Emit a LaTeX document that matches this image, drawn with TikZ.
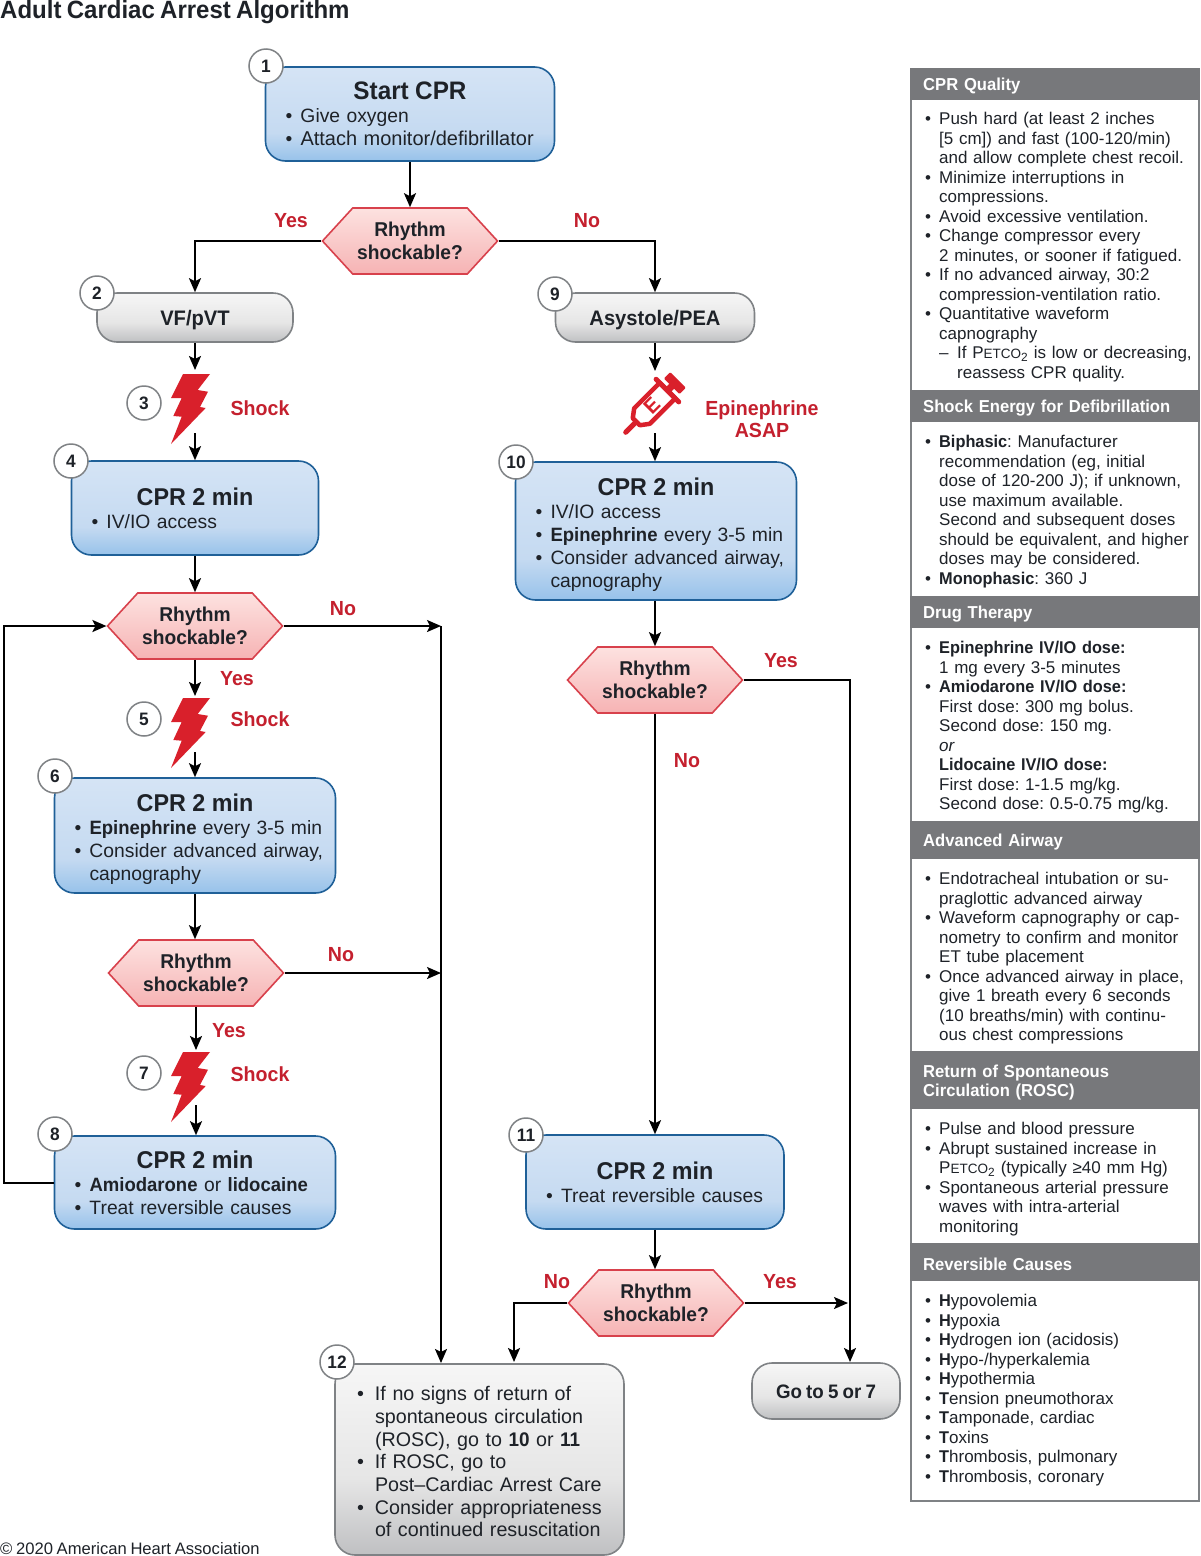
\documentclass[tikz,border=0pt]{standalone}
\usepackage{fontspec}
\setmainfont[WordSpace=0.8,BoldFeatures={FakeStretch=0.96}]{Liberation Sans}
\usetikzlibrary{arrows.meta,shapes.symbols,calc}
\definecolor{inkc}{HTML}{1E2228}
\definecolor{redt}{HTML}{C4202E}
\definecolor{boltc}{HTML}{D9202B}
\definecolor{blueline}{HTML}{1F6098}
\definecolor{bluet}{HTML}{D5E4F5}
\definecolor{bluem}{HTML}{C5DAF1}
\definecolor{blueb}{HTML}{97C2EA}
\definecolor{grayline}{HTML}{7F8285}
\definecolor{grayt}{HTML}{F6F6F6}
\definecolor{graym}{HTML}{E6E6E6}
\definecolor{grayb}{HTML}{BFC0C2}
\definecolor{pinkline}{HTML}{D8414C}
\definecolor{pinkt}{HTML}{FDE2E0}
\definecolor{pinkb}{HTML}{F6B3B4}
\definecolor{panelg}{HTML}{77787B}
\pgfdeclareverticalshading{bluegrad}{100bp}{color(0bp)=(blueb); color(25bp)=(blueb); color(40bp)=(bluem); color(75bp)=(bluet); color(100bp)=(bluet)}
\pgfdeclareverticalshading{graygrad}{100bp}{color(0bp)=(grayb); color(25bp)=(grayb); color(45bp)=(graym); color(75bp)=(grayt); color(100bp)=(grayt)}
\pgfdeclareverticalshading{pinkgrad}{100bp}{color(0bp)=(pinkb); color(25bp)=(pinkb); color(75bp)=(pinkt); color(100bp)=(pinkt)}
\newlength{\hangw}
\newcommand{\nl}{\unskip\break}
\newcommand{\wideline}{\rightskip=-80pt plus 1fil\relax\parfillskip=0pt plus 1fil\relax\hyphenpenalty=10000\relax\frenchspacing}
\newcommand{\ttl}[2][24.3]{{\centering\fontsize{#1}{25}\selectfont\bfseries\rule{0pt}{24pt}#2\par}}
\newcommand{\bul}[1]{\par\wideline\noindent\hangindent=\hangw\hangafter=1\strut\makebox[\hangw][l]{•}#1\par}
\newcommand{\subul}[1]{\par\wideline\noindent\hangindent=32pt\hangafter=1\strut\hspace*{14pt}\makebox[18pt][l]{–}#1\par}
\newcommand{\flowfont}{\fontsize{19.3}{23}\selectfont\setlength{\hangw}{15pt}\parskip=0pt\parindent=0pt\relax}
\newcommand{\blockfont}{\fontsize{19.7}{22.7}\selectfont\setlength{\hangw}{18pt}\parskip=0pt\parindent=0pt\relax}
\newcommand{\panelfont}{\fontsize{17}{19.5}\selectfont\setlength{\hangw}{14pt}\parskip=0pt\parindent=0pt\relax}
\newcommand{\petco}{P{\fontsize{13.5}{13.5}\selectfont ETCO}\textsubscript{2}}
\tikzset{
  flow/.style={line width=2pt,draw=black,-{Stealth[length=14pt,width=12pt,inset=3pt]}},
  bluebox/.style={draw=blueline,line width=1.6pt,rounded corners=20pt,shade,shading=bluegrad,inner xsep=20pt,inner ysep=0pt,text=inkc,font=\flowfont},
  graybox/.style={draw=grayline,line width=1.6pt,rounded corners=20pt,shade,shading=graygrad,inner sep=0pt,text=inkc,font=\fontsize{21}{23}\selectfont\bfseries,text height=15pt,text depth=0pt},
  grayblock/.style={draw=grayline,line width=1.6pt,rounded corners=20pt,shade,shading=graygrad,inner xsep=22pt,inner ysep=0pt,text=inkc,font=\blockfont},
  hexa/.style={signal,signal to=east and west,signal pointer angle=95,draw=pinkline,line width=1.6pt,shade,shading=pinkgrad,inner sep=0pt,minimum width=175pt,minimum height=66pt,text=inkc,font=\fontsize{20}{23}\selectfont\bfseries,align=center},
  numc/.style={circle,draw=grayline,line width=1.5pt,fill=white,minimum size=34pt,inner sep=0pt,text=inkc,font=\fontsize{18}{18}\selectfont\bfseries},
  redl/.style={text=redt,font=\fontsize{20.4}{22.5}\selectfont\bfseries,align=center,inner sep=0pt},
  phead/.style={fill=panelg,text=white,anchor=north west,inner xsep=13pt,inner ysep=0pt,text width=264pt,minimum width=290pt,font=\fontsize{17.3}{19.5}\selectfont\bfseries,align=left,execute at begin node={\rule{0pt}{17pt}}},
  pbody/.style={anchor=north west,inner sep=0pt,text width=254pt,text=inkc,font=\panelfont},
  bolt/.pic={\fill[boltc] (0,0) -- (27,0) -- (14.7,16) -- (25,17.7) -- (17,33) -- (22.7,34) -- (-12,70) -- (-1.3,42.7) -- (-9.7,42) -- (-1.3,24) -- (-12,24) -- cycle;}
}
\begin{document}
\begin{tikzpicture}[x=1pt,y=-1pt]
\useasboundingbox (0,0) rectangle (1200,1556);
\fill[white] (0,0) rectangle (1200,1556);
\node[anchor=west,inner sep=0pt,text=inkc,font=\fontsize{25}{25}\selectfont\bfseries] (title) at (0,12) {Adult Cardiac Arrest Algorithm};
\node[anchor=west,inner sep=0pt,text=inkc,font=\fontsize{16.6}{18}\selectfont] (copy) at (0,1549) {© 2020 American Heart Association};

% boxes
\node[bluebox,text width=249pt,minimum height=94pt] (n1) at (410,114) {\ttl[25.3]{Start CPR}\bul{Give oxygen}\bul{{\fontsize{20}{23}\selectfont Attach monitor/defibrillator}}};
\node[hexa] (d1) at (410,241) {Rhythm\\shockable?};
\node[graybox,minimum width=196pt,minimum height=49pt] (n2) at (195,317.5) {VF/pVT};
\node[graybox,minimum width=199pt,minimum height=49pt] (n9) at (655,317.5) {Asystole/PEA};
\node[bluebox,text width=207pt,minimum height=94pt] (n4) at (195,508) {\ttl{CPR 2 min}\bul{IV/IO access}};
\node[bluebox,text width=241pt,minimum height=138pt] (n10) at (656,531) {\ttl{CPR 2 min}\bul{IV/IO access}\bul{\textbf{Epinephrine} every 3-5 min}\bul{Consider advanced airway,\nl capnography}};
\node[hexa] (d2) at (195,626) {Rhythm\\shockable?};
\node[hexa] (d4) at (655,680) {Rhythm\\shockable?};
\node[bluebox,text width=241pt,minimum height=115pt] (n6) at (195,835.5) {\ttl{CPR 2 min}\bul{\textbf{Epinephrine} every 3-5 min}\bul{Consider advanced airway,\nl capnography}};
\node[hexa] (d3) at (196,973) {Rhythm\\shockable?};
\node[bluebox,text width=241pt,minimum height=93pt] (n8) at (195,1182.5) {\ttl{CPR 2 min}\bul{\textbf{Amiodarone} or \textbf{lidocaine}}\bul{Treat reversible causes}};
\node[bluebox,text width=218pt,minimum height=94pt] (n11) at (655,1182) {\ttl{CPR 2 min}\bul{Treat reversible causes}};
\node[hexa] (d5) at (656,1303) {Rhythm\\shockable?};
\node[grayblock,text width=245pt,minimum height=191pt] (n12) at (479.5,1459.5) {\bul{If no signs of return of\nl spontaneous circulation\nl (ROSC), go to \textbf{10} or \textbf{11}}\bul{If ROSC, go to\nl Post–Cardiac Arrest Care}\bul{Consider appropriateness\nl of continued resuscitation}\vspace{4pt}};
\node[graybox,minimum width=148pt,minimum height=56pt,font=\fontsize{19.5}{23}\selectfont\bfseries] (n13) at (826,1391) {Go to 5 or 7};

% icons
\pic at (183,374) {bolt};
\pic at (183,698) {bolt};
\pic at (183,1052) {bolt};
\begin{scope}[shift={(625,433)},rotate=45]
  \draw[boltc,line width=5pt,line cap=round] (1,0) -- (18,0);
  \draw[boltc,line width=4.5pt,line join=round,fill=white] (16,-5) -- (24,-11) -- (60,-11) -- (60,11) -- (24,11) -- (16,5) -- cycle;
  \draw[boltc,line width=5pt,line cap=round] (60,-16) -- (60,16);
  \draw[boltc,line width=7pt] (60,0) -- (67,0);
  \fill[boltc,rounded corners=1pt] (66,-11) rectangle (75,11);
  \node[text=boltc,inner sep=0pt,rotate=45,font=\fontsize{21}{21}\selectfont\bfseries] (syre) at (38,0) {E};
\end{scope}

% named free ends
\coordinate (b3t) at (195,370);
\coordinate (b3b) at (195,433);
\coordinate (b5t) at (195,696);
\coordinate (b5b) at (195,752);
\coordinate (b7t) at (196,1050);
\coordinate (b7b) at (196,1105);
\coordinate (st) at (655,371);
\coordinate (sb) at (655,433);
\coordinate (j1) at (441,626);
\coordinate (j2) at (441,973);
\coordinate (j3) at (441,1363);
\coordinate (loop) at (4,900);
\coordinate (k1) at (514,1362);
\coordinate (k2) at (850,1362);
\coordinate (k3) at (848,1303);

% connectors
\draw[flow] (n1.south) -- (d1.north);
\draw[flow] (d1.west) -| (n2.north);
\draw[flow] (d1.east) -| (n9.north);
\draw[flow] (n2.south) -- (b3t);
\draw[flow] (b3b) -- (n4.north);
\draw[flow] (n4.south) -- (d2.north);
\draw[flow] (d2.east) -- (j1);
\draw[flow] (j1) -- (j3);
\draw[flow] (d2.south) -- (b5t);
\draw[flow] (b5b) -- (n6.north);
\draw[flow] (n6.south) -- (n6.south |- d3.north);
\draw[flow] (d3.east) -- (j2);
\draw[flow] (d3.south) -- (b7t);
\draw[flow] (b7b) -- (b7b |- n8.north);
\draw[flow] (n8.west) -| (loop) |- (d2.west);
\draw[flow] (n9.south) -- (st);
\draw[flow] (sb) -- (sb |- n10.north);
\draw[flow] (n10.south -| d4.south) -- (d4.north);
\draw[flow] (d4.east) -| (k2);
\draw[flow] (d4.south) -- (n11.north);
\draw[flow] (n11.south) -- (n11.south |- d5.north);
\draw[flow] (d5.west) -| (k1);
\draw[flow] (d5.east) -- (k3);

% numbers
\node[numc] (c1) at (266,66) {1};
\node[numc] (c2) at (97,293) {2};
\node[numc] (c3) at (144,403) {3};
\node[numc] (c4) at (71,461) {4};
\node[numc] (c5) at (144,719) {5};
\node[numc] (c6) at (55,776) {6};
\node[numc] (c7) at (144,1073) {7};
\node[numc] (c8) at (55,1134) {8};
\node[numc] (c9) at (555,294) {9};
\node[numc] (c10) at (516,462) {10};
\node[numc] (c11) at (526,1135) {11};
\node[numc] (c12) at (337,1362) {12};

% red labels
\node[redl] (l1) at (291,221) {Yes};
\node[redl] (l2) at (587,221) {No};
\node[redl] (l3) at (260,408) {Shock};
\node[redl] (l4) at (762,419) {Epinephrine\\ASAP};
\node[redl] (l5) at (343,609) {No};
\node[redl] (l6) at (237,679) {Yes};
\node[redl] (l7) at (260,719) {Shock};
\node[redl] (l8) at (341,955) {No};
\node[redl] (l9) at (229,1031) {Yes};
\node[redl] (l10) at (260,1074) {Shock};
\node[redl] (l11) at (781,661) {Yes};
\node[redl] (l12) at (687,761) {No};
\node[redl] (l13) at (557,1282) {No};
\node[redl] (l14) at (780,1282) {Yes};

% side panel
\node[draw=grayline,line width=2pt,fill=white,minimum width=288pt,minimum height=1432pt,inner sep=0pt,anchor=north west] (panel) at (910,68) {};
\node[phead,minimum height=32pt] (h1) at (910,68) {CPR Quality};
\node[phead,minimum height=32pt] (h2) at (910,390) {Shock Energy for Defibrillation};
\node[phead,minimum height=32pt] (h3) at (910,596) {Drug Therapy};
\node[phead,minimum height=38pt] (h4) at (910,821) {Advanced Airway};
\node[phead,minimum height=58pt] (h5) at (910,1051) {Return of Spontaneous\\Circulation (ROSC)};
\node[phead,minimum height=38pt] (h6) at (910,1243) {Reversible Causes};

\node[pbody] (p1) at (925,105) {\bul{Push hard (at least 2 inches\nl [5 cm]) and fast (100-120/min)\nl and allow complete chest recoil.}\bul{Minimize interruptions in\nl compressions.}\bul{Avoid excessive ventilation.}\bul{Change compressor every\nl 2 minutes, or sooner if fatigued.}\bul{If no advanced airway, 30:2\nl compression-ventilation ratio.}\bul{Quantitative waveform\nl capnography}\subul{If \petco{} is low or decreasing,\nl reassess CPR quality.}};
\node[pbody] (p2) at (925,428) {\bul{\textbf{Biphasic}: Manufacturer\nl recommendation (eg, initial\nl dose of 120-200 J); if unknown,\nl use maximum available.\nl Second and subsequent doses\nl should be equivalent, and higher\nl doses may be considered.}\bul{\textbf{Monophasic}: 360 J}};
\node[pbody] (p3) at (925,634) {\bul{\textbf{Epinephrine IV/IO dose:}\nl 1 mg every 3-5 minutes}\bul{\textbf{Amiodarone IV/IO dose:}\nl First dose: 300 mg bolus.\nl Second dose: 150 mg.\nl \textit{or}\nl \textbf{Lidocaine IV/IO dose:}\nl First dose: 1-1.5 mg/kg.\nl Second dose: 0.5-0.75 mg/kg.}};
\node[pbody] (p4) at (925,865) {\bul{Endotracheal intubation or su-\nl praglottic advanced airway}\bul{Waveform capnography or cap-\nl nometry to confirm and monitor\nl ET tube placement}\bul{Once advanced airway in place,\nl give 1 breath every 6 seconds\nl (10 breaths/min) with continu-\nl ous chest compressions}};
\node[pbody] (p5) at (925,1115) {\bul{Pulse and blood pressure}\bul{Abrupt sustained increase in\nl \petco{} (typically ≥40 mm Hg)}\bul{Spontaneous arterial pressure\nl waves with intra-arterial\nl monitoring}};
\node[pbody] (p6) at (925,1287) {\bul{\textbf{H}ypovolemia}\bul{\textbf{H}ypoxia}\bul{\textbf{H}ydrogen ion (acidosis)}\bul{\textbf{H}ypo-/hyperkalemia}\bul{\textbf{H}ypothermia}\bul{\textbf{T}ension pneumothorax}\bul{\textbf{T}amponade, cardiac}\bul{\textbf{T}oxins}\bul{\textbf{T}hrombosis, pulmonary}\bul{\textbf{T}hrombosis, coronary}};
\end{tikzpicture}
\end{document}
